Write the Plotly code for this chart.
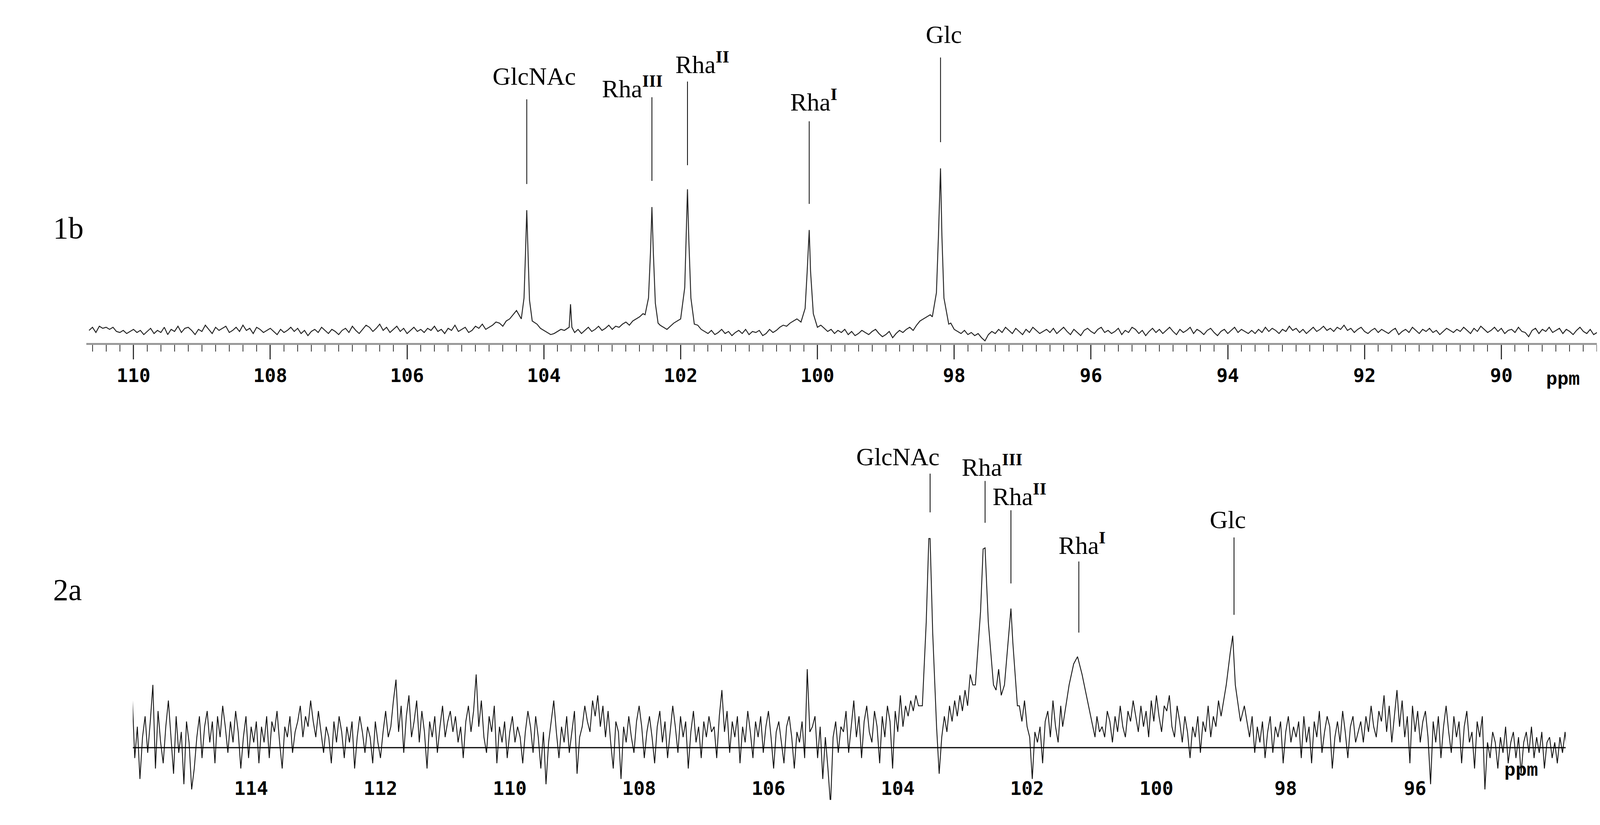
import numpy as np
import plotly.graph_objects as go

W, H = 4177, 2112
DX, DY = 1560.0, 789.0  # reference measured in display units

# ---------------- data: spectrum 1b (ppm grid start/step + intensities) ----------------
top_start, top_step = 110.65, 0.05
top_noise = [
 9,12,7,13,11,12,10,12,8,7,9,6,8,10,7,9,5,8,11,6,
 9,7,12,5,10,8,13,7,11,12,9,5,10,8,14,10,6,12,9,11,
 13,7,9,12,8,14,9,11,6,12,10,7,9,11,8,5,10,7,9,12,
 8,11,6,9,4,8,10,7,12,9,6,10,8,5,9,11,7,13,9,6,
 10,14,12,8,11,15,9,12,7,10,13,8,11,6,9,12,8,10,7,11,
 9,13,8,10,6,11,9,14,8,10,12,7,9,13,11,15,10,12,14,17,
 16,13,18,20,24,28,30,0,0,0,20,15,11,9,7,5,6,8,10,9,
 8,0,7,10,6,9,12,8,10,13,9,11,14,10,13,12,15,17,14,18,
 20,22,25,30,0,0,0,14,12,10,13,16,18,0,0,0,0,0,14,10,
 8,6,9,5,7,10,6,8,4,7,9,6,10,5,8,7,9,4,6,10,
 7,9,12,14,13,16,18,20,0,0,0,0,0,0,14,11,8,10,6,9,
 7,10,5,8,4,6,9,7,5,8,10,6,3,5,8,2,6,9,7,10,
 12,9,14,18,20,22,24,0,0,0,0,0,16,10,8,6,9,5,7,4,
 6,2,-1,5,8,6,10,7,12,9,6,11,8,5,10,7,12,9,6,8,
 10,7,11,6,9,12,8,5,10,7,4,9,11,8,6,10,12,7,9,6,
 8,11,5,9,7,12,10,6,9,4,8,11,7,10,6,9,12,8,5,10,
 7,9,12,6,10,8,5,9,11,7,4,8,10,6,9,12,7,10,8,6,
 9,6,10,7,12,8,11,9,6,10,8,13,9,11,7,10,6,9,12,8,
 10,13,9,11,8,12,10,14,9,11,7,10,12,8,6,9,11,7,10,8,
 6,9,11,5,8,10,7,12,9,6,10,8,11,7,9,5,8,11,9,7,
 10,8,12,9,6,11,8,13,10,7,9,12,8,11,6,9,10,7,12,8,
 7,3,9,11,6,10,8,12,7,9,11,6,10,8,5,9,12,8,6,10,
 5,7,6,9,
]
top_peaks = [
 [(104.33,20),(104.29,40),(104.27,80),(104.25,124),(104.23,80),(104.21,38),(104.17,18)],
 [(103.63,12),(103.61,34),(103.59,12)],
 [(102.52,24),(102.47,40),(102.44,85),(102.42,127),(102.40,85),(102.37,35),(102.33,16)],
 [(102.00,20),(101.94,50),(101.92,100),(101.90,144),(101.88,95),(101.85,40),(101.80,15)],
 [(100.24,17),(100.18,30),(100.15,65),(100.12,105),(100.10,65),(100.06,25),(100.00,12)],
 [(98.32,22),(98.26,45),(98.23,100),(98.20,164),(98.18,100),(98.15,40),(98.08,15)],
]

# ---------------- data: spectrum 2a ----------------
bot_start, bot_step = 115.84, 0.04
bot_noise = [
 50,-10,20,-30,10,30,-5,25,60,-20,35,5,-15,20,45,10,-25,30,-5,15,-35,25,5,-40,-20,
 10,30,-10,20,35,5,25,-15,30,10,40,20,-5,25,5,35,15,-20,10,30,-10,20,5,25,-15,
 20,5,30,-10,25,15,35,5,-20,20,10,30,-5,15,25,40,10,30,20,45,25,10,35,15,-5,
 20,10,-15,25,5,30,15,-10,20,5,25,-20,10,30,15,-5,20,10,-15,25,5,-10,15,35,10,
 20,45,65,15,40,-5,30,50,10,25,45,5,35,15,-20,25,10,30,-5,20,40,10,25,35,15,
 30,5,20,-10,25,40,15,35,70,20,45,10,-5,30,15,40,-15,20,5,25,-10,15,30,5,20,
 10,-15,15,35,20,-5,30,10,-20,15,-35,5,25,45,15,-10,20,5,30,-5,15,35,-25,10,20,
 40,25,15,45,30,50,20,40,10,35,5,-20,25,15,-30,20,5,30,10,-5,25,40,20,-10,15,
 30,10,-15,20,35,5,25,-10,15,40,20,-5,30,10,25,-20,15,35,5,20,-10,25,10,30,15,
 20,-10,30,55,15,35,-5,25,10,30,-15,20,5,35,15,-10,25,10,30,-5,20,35,10,-20,15,
 25,5,-15,20,30,10,-20,15,5,25,-10,75,15,20,30,-10,20,-30,10,-20,-55,10,25,-5,20,
 15,35,-5,20,45,10,30,-10,25,40,15,5,35,20,-15,30,10,40,25,-20,35,15,50,20,40,
 30,45,35,50,40,0,0,0,0,0,0,0,-25,10,30,15,40,25,45,30,50,35,55,40,70,
 60,0,0,0,0,0,0,0,0,55,75,50,0,0,0,0,0,0,40,25,45,20,10,-30,15,
 5,20,-15,25,35,10,45,20,5,40,0,0,0,0,0,0,0,0,0,0,0,0,0,30,15,
 20,10,35,25,5,30,15,40,20,10,35,25,45,30,15,40,20,35,10,45,25,50,30,15,40,
 35,50,20,10,40,25,5,30,15,-10,20,10,30,-5,25,15,40,10,30,20,45,0,0,0,0,
 0,0,0,0,0,40,25,10,30,-5,20,5,25,-10,15,30,-5,20,10,25,-15,15,30,5,20,
 10,25,-10,30,5,20,-15,25,10,35,-5,15,30,20,-20,10,25,5,35,15,-10,20,30,5,15,
 25,5,30,15,40,20,10,35,25,50,15,40,5,30,55,20,45,10,30,-15,40,15,35,5,25,
 35,10,-35,25,5,30,-10,20,40,15,-5,30,10,25,-15,20,35,5,15,-20,25,10,30,-40,5,
 -10,15,5,-20,10,-5,20,-15,5,15,-10,10,-25,5,15,-5,20,-10,10,-5,15,-20,5,10,-10,
 5,-15,10,-5,15,-10,
]
bot_peaks = [
 [(103.62,40),(103.56,120),(103.52,200),(103.50,200),(103.46,110),(103.40,20)],
 [(102.80,60),(102.72,130),(102.68,190),(102.65,191),(102.60,120),(102.52,60)],
 [(102.35,60),(102.28,110),(102.25,133),(102.22,100),(102.15,40)],
 [(101.45,20),(101.35,60),(101.28,80),(101.22,87),(101.15,70),(101.05,40),(100.95,10)],
 [(99.00,30),(98.92,60),(98.86,90),(98.82,107),(98.78,60),(98.70,25)],
]

labels = ["GlcNAc", "Rha<sup><b>III</b></sup>", "Rha<sup><b>II</b></sup>", "Rha<sup><b>I</b></sup>", "Glc"]
top_label_ppm = [104.25, 102.42, 101.90, 100.12, 98.20]
bot_label_ppm = [103.50, 102.65, 102.25, 101.20, 98.80]


def build(start, step, noise, peaks):
    x = list(start - step * np.arange(len(noise)))
    keep = []
    for xi, yi in zip(x, noise):
        inside = any(min(p[0] for p in pk) - step * 0.5 <= xi <= max(p[0] for p in pk) + step * 0.5 for pk in peaks)
        if not inside:
            keep.append((xi, yi))
    for pk in peaks:
        keep.extend(pk)
    keep.sort(key=lambda t: -t[0])
    return [k[0] for k in keep], [k[1] for k in keep]


tx, ty = build(top_start, top_step, top_noise, top_peaks)
bx, by = build(bot_start, bot_step, bot_noise, bot_peaks)

fig = go.Figure()
fig.add_trace(go.Scatter(x=tx, y=ty, mode="lines", line=dict(color="#222", width=2.4), xaxis="x", yaxis="y", showlegend=False))
fig.add_trace(go.Scatter(x=bx, y=by, mode="lines", line=dict(color="#111", width=2.2), xaxis="x2", yaxis="y2", showlegend=False))

tickfont = dict(family="DejaVu Sans Mono", size=48, color="black", weight="bold")

fig.update_layout(
    width=W, height=H, margin=dict(l=0, r=0, t=0, b=0),
    paper_bgcolor="white", plot_bgcolor="white",
    xaxis=dict(domain=[213/W, 4098/W], range=[110.69, 88.5], anchor="y",
               tickmode="array", tickvals=[110,108,106,104,102,100,98,96,94,92,90],
               ticks="outside", ticklen=37, tickwidth=3, tickcolor="#333",
               minor=dict(dtick=0.2, ticks="outside", ticklen=17, tickwidth=2, tickcolor="#333"),
               showline=True, linewidth=5, linecolor="#999", showgrid=False, zeroline=False,
               tickfont=tickfont),
    yaxis=dict(domain=[1-325/DY, 1-25/DY], range=[-3, 297], visible=False),
    xaxis2=dict(domain=[124/DX, 1494/DX], range=[115.83, 93.67], anchor="y2",
                tickmode="array", tickvals=[114,112,110,108,106,104,102,100,98,96],
                ticks="", ticklabelposition="inside", showline=False, showgrid=False, zeroline=False,
                tickfont=tickfont),
    yaxis2=dict(domain=[1-762/DY, 1-402/DY], range=[-50, 310], visible=False),
)

fig.add_shape(type="line", xref="x2", yref="y2", x0=115.83, x1=93.67, y0=0, y1=0, line=dict(color="black", width=3))

lab_font = dict(family="Liberation Serif", size=64, color="black")

top_line = [(230,149),(232,152),(247,167),(209,130),(270,189)]
top_text = [(104.14,252),(102.71,242),(101.68,265),(100.05,229),(98.15,292)]
for p, (a, b), (tx_, ty_), lab in zip(top_label_ppm, top_line, top_text, labels):
    fig.add_shape(type="line", xref="x", yref="y", x0=p, x1=p, y0=b, y1=a, line=dict(color="black", width=2))
    fig.add_annotation(xref="x", yref="y", x=tx_, y=ty_, text=lab, showarrow=False, font=lab_font)

bot_line = [(262,225),(255,215),(227,157),(178,110),(201,127)]
bot_text = [(104.0,278),(102.54,270),(102.12,242),(101.15,195),(98.9,218)]
for p, (a, b), (tx_, ty_), lab in zip(bot_label_ppm, bot_line, bot_text, labels):
    fig.add_shape(type="line", xref="x2", yref="y2", x0=p, x1=p, y0=b, y1=a, line=dict(color="black", width=2))
    fig.add_annotation(xref="x2", yref="y2", x=tx_, y=ty_, text=lab, showarrow=False, font=lab_font)

for txt, yy in [("1b", 198), ("2a", 578)]:
    fig.add_annotation(xref="paper", yref="paper", x=47/DX, y=1-yy/DY, text=txt, showarrow=False,
                       font=dict(family="Liberation Serif", size=78, color="black"))
for yy, xx in [(360, 1508), (745, 1468)]:
    fig.add_annotation(xref="paper", yref="paper", x=xx/DX, y=1-yy/DY, text="ppm", showarrow=False,
                       font=dict(family="Liberation Mono", size=48, color="black", weight="bold"))

fig.write_html("out.html")
